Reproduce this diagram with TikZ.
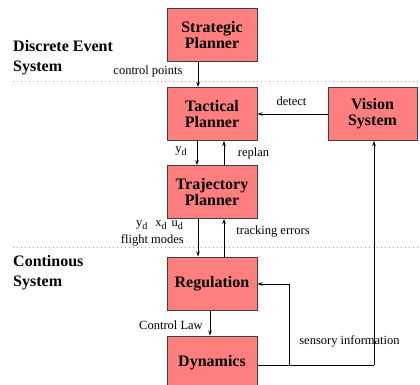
\documentclass[tikz,border=0pt]{standalone}
\usepackage{fontspec}
\setmainfont{Liberation Serif}
\usetikzlibrary{arrows.meta}
\definecolor{boxfill}{HTML}{FF7F7F}
\definecolor{boxline}{HTML}{404040}
\newcommand{\sbd}{\raisebox{-3pt}{\fontsize{10}{10}\selectfont d}}
\tikzset{
  blk/.style={draw=boxline, line width=1pt, fill=boxfill, minimum width=90pt, minimum height=53pt,
    inner sep=0pt, align=center, font=\fontsize{16}{16}\selectfont\bfseries},
  arr/.style={draw=black, line width=0.7pt, -{Stealth[length=5pt,width=3.5pt]}},
  ln/.style={draw=black, line width=0.7pt},
  lbl/.style={font=\fontsize{12.5}{14}\selectfont, inner sep=0pt},
  side/.style={font=\fontsize{16}{20}\selectfont\bfseries, align=left, inner sep=0pt, anchor=west},
  sep/.style={draw=gray!70, line width=0.8pt, dash pattern=on 0.8pt off 3.2pt}
}
\begin{document}
\begin{tikzpicture}[x=1pt,y=-1pt]
\useasboundingbox (0,0) rectangle (420,385);
\clip (0,0) rectangle (420,385);
\fill[white] (0,0) rectangle (420,385);
% separators
\coordinate (s1a) at (13,81); \coordinate (s1b) at (420,81);
\coordinate (s2a) at (13,247); \coordinate (s2b) at (420,247);
\draw[sep] (s1a) -- (s1b);
\draw[sep] (s2a) -- (s2b);
% side labels
\node[side] (des) at (13,57.5) {Discrete Event\\System};
\node[side] (cont) at (13,273) {Continous\\System};
% boxes
\node[blk] (strat) at (212,35.5) {Strategic\\Planner};
\node[blk] (tact) at (212,114) {Tactical\\Planner};
\node[blk] (traj) at (212,192) {Trajectory\\Planner};
\node[blk] (reg) at (212,283.5) {Regulation};
\node[blk] (dyn) at (212,362.5) {Dynamics};
\node[blk, minimum width=89pt] (vis) at (372.5,114) {Vision\\System};
% connectors
\draw[arr] ([xshift=-14pt]strat.south) -- ([xshift=-14pt]tact.north);
\draw[arr] (vis.west) -- (tact.east);
\draw[arr] ([xshift=-15pt]tact.south) -- ([xshift=-15pt]traj.north);
\draw[arr] ([xshift=12pt]traj.north) -- ([xshift=12pt]tact.south);
\draw[arr] ([xshift=-14pt]traj.south) -- ([xshift=-14pt]reg.north);
\draw[arr] ([xshift=12pt]reg.north) -- ([xshift=12pt]traj.south);
\draw[arr] ([xshift=-2pt]reg.south) -- ([xshift=-2pt]dyn.north);
\coordinate (d1) at (374,365);
\coordinate (br) at (289,365);
\coordinate (br2) at (289,284);
\draw[ln] (d1 -| dyn.east) -- (d1);
\draw[arr] (d1) -- (d1 |- vis.south);
\draw[arr] (br) -- (br2) -- (br2 -| reg.east);
% labels
\node[lbl] (lcp) at (148,71) {control points};
\node[lbl] (ldet) at (291.5,101) {detect};
\node[lbl] (lyd) at (181,151) {y\sbd};
\node[lbl] (lrep) at (253.5,153) {replan};
\node[lbl, anchor=base east] (lsub) at (183,226) {y\sbd\hspace{8pt}x\sbd\hspace{5pt}u\sbd};
\node[lbl, anchor=base east] (lfm) at (184,243) {flight modes};
\node[lbl] (ltrk) at (273,232) {tracking errors};
\node[lbl] (lcl) at (171,325) {Control Law};
\node[lbl] (lsens) at (349.5,341) {sensory information};
\end{tikzpicture}
\end{document}
